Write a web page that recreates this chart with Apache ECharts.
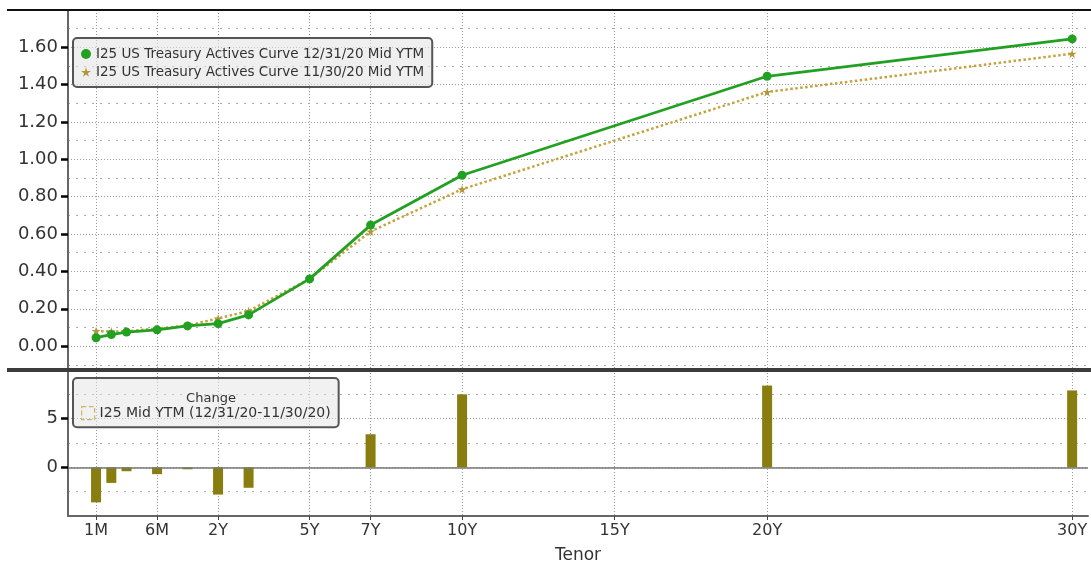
<!DOCTYPE html>
<html><head><meta charset="utf-8">
<script src="https://cdn.jsdelivr.net/npm/echarts@6/dist/echarts.min.js"></script>
<style>html,body{margin:0;padding:0;background:#fff}#c{width:1091px;height:568px}</style>
</head><body><div id="c"></div>
<script>
// ---- data ----
const tenors = ['1M','2M','3M','6M','1Y','2Y','3Y','5Y','7Y','10Y','20Y','30Y'];
const yieldDec = [0.045,0.062,0.075,0.087,0.108,0.120,0.167,0.360,0.648,0.915,1.445,1.645];
const yieldNov = [0.081,0.078,0.079,0.094,0.110,0.148,0.188,0.360,0.614,0.840,1.361,1.566];
const changeBp = [-3.6,-1.6,-0.4,-0.7,-0.2,-2.8,-2.1,0,3.4,7.5,8.4,7.9];
const xTickLabels = ['1M','6M','2Y','5Y','7Y','10Y','15Y','20Y','30Y'];
const yTicks = [0,0.2,0.4,0.6,0.8,1.0,1.2,1.4,1.6];
const yMinorTicks = [-0.1,0.1,0.3,0.5,0.7,0.9,1.1,1.3,1.5,1.7];
const chgTicks = [0,5];
const chgMinorTicks = [-2.5,2.5,7.5];
const nameDec = 'I25 US Treasury Actives Curve 12/31/20 Mid YTM';
const nameNov = 'I25 US Treasury Actives Curve 11/30/20 Mid YTM';
const nameChg = 'I25 Mid YTM (12/31/20-11/30/20)';

// ---- tenor scale (Bloomberg-style: stretched short end, linear in years from 1Y) ----
function tenorMonths(t){ const n = parseFloat(t); return t.endsWith('M') ? n : n*12; }
const shortKnotsM = [1,3,6,12], shortKnotsX = [-2,-1,0,1];
function tenorX(t){
  const m = tenorMonths(t);
  if (m >= 12) return m/12;
  for (let i=0;i<shortKnotsM.length-1;i++){
    if (m <= shortKnotsM[i+1]) {
      const f = (m-shortKnotsM[i])/(shortKnotsM[i+1]-shortKnotsM[i]);
      return shortKnotsX[i] + f*(shortKnotsX[i+1]-shortKnotsX[i]);
    }
  }
}
const xTickVals = xTickLabels.map(tenorX);
const xLabelOf = {};
xTickLabels.forEach(l => { xLabelOf[tenorX(l).toFixed(4)] = l; });

const FONT = 'DejaVu Sans';
const GREEN = '#22a022', GOLD = '#c4a23c', GOLDMK = '#b3963a', OLIVE = '#8a7d10';
const STAR = 'path://M50,0 L61,35 L98,35 L68,57 L79,91 L50,70 L21,91 L32,57 L2,35 L39,35 Z';

function xAxisBase(gi, showLabels){
  return {
    type:'value', gridIndex:gi, min:-2.92, max:30.52, position:'bottom',
    axisLine:{show:showLabels, onZero:false, lineStyle:{color:'#666', width:2}},
    axisTick:{show:showLabels, customValues:xTickVals, length:4, lineStyle:{color:'#444'}},
    axisLabel:{show:showLabels, customValues:xTickVals, formatter:v => xLabelOf[Number(v).toFixed(4)] || '',
      fontFamily:FONT, fontSize:16, color:'#333', margin:7},
    splitLine:{show:true, lineStyle:{color:'#9a9a9a', type:[1,2], width:1}},
    name: showLabels ? 'Tenor' : '', nameLocation:'middle', nameGap:31,
    nameTextStyle:{fontFamily:FONT, fontSize:17, color:'#333'}
  };
}
function yAxisMajor(gi, min, max, ticks, fmt){
  return {
    type:'value', gridIndex:gi, min, max, position:'left',
    axisLine:{show:true, onZero:false, lineStyle:{color:'#666', width:2}},
    axisTick:{show:true, customValues:ticks, length:7, lineStyle:{color:'#000', width:2.5}},
    axisLabel:{customValues:ticks, formatter:fmt, fontFamily:FONT, fontSize:18, color:'#333', margin:10},
    splitLine:{show:true, lineStyle:{color:'#9a9a9a', type:[1,2], width:1}}
  };
}
function yAxisMinor(gi, min, max, ticks){
  return {
    type:'value', gridIndex:gi, min, max, position:'left',
    axisLine:{show:false, onZero:false}, axisTick:{show:false, customValues:ticks},
    axisLabel:{show:false, customValues:ticks},
    splitLine:{show:true, lineStyle:{color:'#a8a8a8', type:[2,6], width:1}}
  };
}

const chart = echarts.init(document.getElementById('c'));
chart.setOption({
  animation:false,
  backgroundColor:'#fff',
  textStyle:{fontFamily:FONT},
  grid:[
    {left:68, right:3, top:10, height:360},
    {left:68, right:3, top:370, height:146}
  ],
  xAxis:[ xAxisBase(0,false), xAxisBase(1,true) ],
  yAxis:[
    yAxisMinor(0, -0.128, 1.8, yMinorTicks),
    yAxisMajor(0, -0.128, 1.8, yTicks, v => Number(v).toFixed(2)),
    yAxisMinor(1, -5, 10, chgMinorTicks),
    yAxisMajor(1, -5, 10, chgTicks, v => String(Math.round(v)))
  ],
  title:{text:'Change', left:206, top:387, textAlign:'center',
    textStyle:{fontFamily:FONT, fontSize:13, fontWeight:'normal', color:'#333'}},
  legend:[
    {orient:'vertical', left:73, top:38, padding:[9,8,8,8], itemGap:4, itemWidth:10, itemHeight:10,
     backgroundColor:'rgba(228,228,228,0.6)', borderColor:'#555', borderWidth:2, borderRadius:4,
     textStyle:{fontFamily:FONT, fontSize:13.5, color:'#333'},
     data:[{name:nameDec, icon:'circle'}, {name:nameNov, icon:STAR}]},
    {orient:'vertical', left:73, top:378, padding:[28,8,7,8], itemWidth:13, itemHeight:13,
     backgroundColor:'rgba(228,228,228,0.5)', borderColor:'#555', borderWidth:2, borderRadius:4,
     textStyle:{fontFamily:FONT, fontSize:14, color:'#333'},
     data:[{name:nameChg, icon:'rect', itemStyle:{color:'rgba(0,0,0,0)', borderColor:'#c8b868', borderWidth:1.2, borderType:'dashed'}}]}
  ],
  graphic:[
    {type:'rect', shape:{x:7, y:9, width:1084, height:2}, style:{fill:'#111'}, z:100},
    {type:'rect', shape:{x:7, y:368, width:1084, height:4}, style:{fill:'#3c3c3c'}, z:100}
  ],
  series:[
    {name:nameNov, type:'line', xAxisIndex:0, yAxisIndex:1,
     data:tenors.map((t,i)=>[tenorX(t), yieldNov[i]]),
     symbol:STAR, symbolSize:9, itemStyle:{color:GOLDMK},
     lineStyle:{color:GOLD, width:2.5, type:'dotted'}, z:2},
    {name:nameDec, type:'line', xAxisIndex:0, yAxisIndex:1,
     data:tenors.map((t,i)=>[tenorX(t), yieldDec[i]]),
     symbol:'circle', symbolSize:9, itemStyle:{color:GREEN},
     lineStyle:{color:GREEN, width:2.8}, z:3},
    {name:nameChg, type:'bar', xAxisIndex:1, yAxisIndex:3,
     data:tenors.map((t,i)=>[tenorX(t), changeBp[i]]),
     barWidth:10, itemStyle:{color:OLIVE},
     markLine:{silent:true, symbol:'none', label:{show:false},
       lineStyle:{color:'#777', type:'solid', width:1.5}, data:[{yAxis:0}]}}
  ]
});
</script></body></html>
